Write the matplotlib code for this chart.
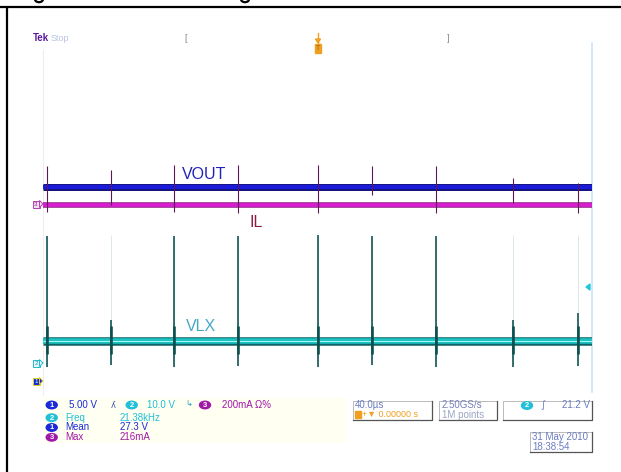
import matplotlib
matplotlib.use("Agg")
import matplotlib.pyplot as plt
from matplotlib.patches import Ellipse, Rectangle, Polygon, Arc

# ---------------- data ----------------
record_t = [-200.0, 200.0]                # µs, 40 µs/div, trigger at centre
spike_t = [-197.1, -150.5, -104.9, -57.9, 0.0, 39.7, 86.3, 142.4, 189.8]
# VLX switching spikes (divisions)
vlx_top = [-0.51, -2.48, -0.51, -0.51, -0.49, -0.51, -0.51, -2.48, -2.32]
vlx_bot = [-3.58, -3.53, -3.58, -3.56, -3.58, -3.53, -3.58, -3.58, -3.56]
# VOUT / IL coupled spikes (divisions)
vout_top = [1.12, 1.03, 1.15, 1.15, 1.15, 1.12, 1.13, 0.84, 0.73]
vout_bot = [0.05, 0.21, 0.05, 0.02, 0.02, 0.44, 0.02, 0.26, 0.02]
vout_level = 0.64
il_level = 0.21
vlx_level = -2.97
trace_names = ["VOUT", "IL", "VLX"]

ch_scales = ["5.00 V", "10.0 V", "200mA \u03a9%"]
meas_names = ["Freq", "Mean", "Max"]
meas_values = ["21.38kHz", "27.3 V", "216mA"]
meas_ch = ["2", "1", "3"]

# ---------------- figure ----------------
W, H = 621, 472
fig = plt.figure(figsize=(W / 100, H / 100), dpi=100)
fig.patch.set_facecolor("white")
FONT = "Liberation Sans"

ov = fig.add_axes([0, 0, 1, 1])
ov.set_xlim(0, W)
ov.set_ylim(H, 0)
ov.axis("off")

# document frame (black lines top & left)
ov.plot([0, W], [7.3, 7.3], color="black", lw=1.6, solid_capstyle="butt")
ov.plot([7.3, 7.3], [7.3, H], color="black", lw=1.6, solid_capstyle="butt")
# cut-off caption descenders at the very top
for gx in [39, 245]:
    ov.add_patch(Arc((gx, -0.8), 8, 6, theta1=0, theta2=180, color="black",
                     lw=1.6))

# screen edges
ov.plot([43, 43], [50, 395], color="#eeeeee", lw=0.8)
ov.plot([592.3, 592.3], [43, 392], color="#cfe3fa", lw=1.2)

# Top status
ov.text(33, 41, "Tek", fontsize=7, color="#5a1a9a", family=FONT,
        fontweight="bold", va="baseline")
ov.text(50.5, 41, "Stop", fontsize=6.5, color="#b8c4e0", family=FONT,
        va="baseline")
ov.text(186, 41, "[", fontsize=6.5, color="#888888", family=FONT,
        va="baseline", ha="center")
ov.text(448, 41, "]", fontsize=6.5, color="#888888", family=FONT,
        va="baseline", ha="center")
# trigger position marker
ov.plot([318, 318], [33, 43], color="#f0a020", lw=1.0)
ov.add_patch(Polygon([[315.5, 39], [320.5, 39], [318, 43]], closed=True,
                     color="#f0a020"))
ov.add_patch(Rectangle((315, 44), 6, 9, color="#f0a020"))
ov.text(318, 49, "T", fontsize=5, color="#a06010", ha="center", va="center",
        family=FONT)

# ---------------- screen axes ----------------
sa = fig.add_axes([43 / W, 1 - 385 / H, 549 / W, 342 / H])
sa.set_xlim(record_t)
sa.set_ylim(-4, 4)
sa.axis("off")
sa.patch.set_alpha(0)

px = 0.72  # points per pixel

# faint persistence of the spikes
sa.vlines(spike_t, [-0.5] * len(spike_t), vlx_bot, color="#dde8e8",
          lw=1.0 * px, zorder=1)

# VLX trace (teal band)
sa.plot(record_t, [vlx_level] * 2, color="#0e6464", lw=8.5 * px, zorder=3,
        solid_capstyle="butt")
sa.plot(record_t, [vlx_level] * 2, color="#1cc4c4", lw=5.5 * px, zorder=4,
        solid_capstyle="butt")
sa.plot(record_t, [vlx_level] * 2, color="#a8f4f4", lw=1.0 * px, zorder=5,
        solid_capstyle="butt")
sa.vlines(spike_t, vlx_bot, vlx_top, color="#0b4f4f", lw=1.6 * px, zorder=6)
sa.vlines(spike_t, [vlx_level - 0.3] * len(spike_t),
          [vlx_level + 0.35] * len(spike_t), color="#0b4f4f", lw=2.6 * px,
          zorder=6)

# IL trace (magenta)
sa.plot(record_t, [il_level] * 2, color="#8a1a80", lw=5.5 * px, zorder=3,
        solid_capstyle="butt")
sa.plot(record_t, [il_level] * 2, color="#d81ed0", lw=3.8 * px, zorder=4,
        solid_capstyle="butt")

# VOUT trace (blue)
sa.plot(record_t, [vout_level] * 2, color="#14147a", lw=7 * px, zorder=5,
        solid_capstyle="butt")
sa.plot(record_t, [vout_level] * 2, color="#1a1ad8", lw=4.2 * px, zorder=6,
        solid_capstyle="butt")

sa.vlines(spike_t, vout_bot, vout_top, color="#5e1656", lw=1.1 * px, zorder=7)

# trace labels
sa.text(-98.7, 0.81, trace_names[0], fontsize=11.5, color="#2222b8",
        family=FONT, va="baseline", zorder=8)
sa.text(-49.2, -0.30, trace_names[1], fontsize=11.5, color="#8c1c44",
        family=FONT, va="baseline", zorder=8)
sa.text(-96.0, -2.73, trace_names[2], fontsize=11.5, color="#48a8c8",
        family=FONT, va="baseline", zorder=8)

# ---------------- left channel markers ----------------
def ch_marker(x, y, label, edge, face, txt):
    ov.add_patch(Rectangle((x - 4.5, y - 3.5), 7, 7, facecolor=face,
                           edgecolor=edge, lw=0.7, zorder=9))
    ov.add_patch(Polygon([[x + 2.5, y - 3.5], [x + 6, y], [x + 2.5, y + 3.5]],
                         closed=True, facecolor=face, edgecolor=edge, lw=0.7,
                         zorder=9))
    ov.text(x - 1, y + 0.3, label, fontsize=4.5, color=txt, ha="center",
            va="center", family=FONT, zorder=10)

ch_marker(37, 204, "3", "#b040b0", "#f6e0f6", "#902090")
ch_marker(37, 363, "2", "#20b8d0", "#e8fafd", "#1090b0")
ch_marker(37, 381, "1", "#e8d020", "#1030d8", "white")

# trigger level marker (right edge)
ov.add_patch(Polygon([[586, 287], [590, 284], [590, 290]], closed=True,
                     color="#20c8d8"))

# ---------------- bottom readouts ----------------
ov.add_patch(Rectangle((43, 398), 304, 45, facecolor="#fffff2",
                       edgecolor="none", zorder=0))

BLUE, CYAN, PURP = "#1a2ad8", "#20c0d8", "#a018a8"
ch_col = {"1": BLUE, "2": CYAN, "3": PURP}


def badge(x, y, n):
    ov.add_patch(Ellipse((x, y), 11, 7.5, color=ch_col[n], zorder=5))
    ov.text(x, y + 0.3, n, fontsize=5.5, color="white", ha="center",
            va="center", family=FONT, fontweight="bold", zorder=6)


# row 1: channel scales
badge(51.7, 405, "1")
ov.text(69, 405, ch_scales[0], fontsize=7, color=BLUE, family=FONT,
        va="center")
ov.text(113, 405, "\u028e", fontsize=6, color="#4050b0", family="DejaVu Sans",
        va="center", ha="center")
badge(131.7, 405, "2")
ov.text(146.7, 405, ch_scales[1], fontsize=7, color=CYAN, family=FONT,
        va="center")
ov.text(189, 404, "\u21b3", fontsize=6, color="#30a0c0", family="DejaVu Sans",
        va="center", ha="center")
badge(205, 405, "3")
ov.text(221.7, 405, ch_scales[2], fontsize=7, color=PURP, family=FONT,
        va="center")

# measurement rows
for i, (n, name, val) in enumerate(zip(meas_ch, meas_names, meas_values)):
    yy = 417.7 + i * 9.8
    badge(51.7, yy, n)
    ov.text(65, yy, name, fontsize=7, color=ch_col[n], family=FONT,
            va="center")
    ov.text(120, yy, val, fontsize=7, color=ch_col[n], family=FONT,
            va="center")


def box(x0, y0, x1, y1):
    ov.add_patch(Rectangle((x0, y0), x1 - x0, y1 - y0, facecolor="white",
                           edgecolor="#b0b0b0", lw=0.6, zorder=2))
    ov.plot([x0, x1, x1], [y1, y1, y0], color="#555555", lw=0.9, zorder=3)


STEEL = "#6a7cc0"
box(353, 401, 432, 420)
ov.text(355, 405.5, "40.0\u00b5s", fontsize=7, color=STEEL, family=FONT,
        va="center", zorder=4)
ov.add_patch(Rectangle((355, 411), 6, 7, color="#f0a020", zorder=4))
ov.text(362, 414.8, "+\u25bc 0.00000 s", fontsize=6.5, color="#f0a020",
        family=FONT, va="center", zorder=4)

box(439, 401, 497, 420)
ov.text(441.5, 405.5, "2.50GS/s", fontsize=7, color="#7080b8", family=FONT,
        va="center", zorder=4)
ov.text(441.5, 414.8, "1M points", fontsize=7, color="#9aa6c8", family=FONT,
        va="center", zorder=4)

box(503, 401, 592, 420)
ov.add_patch(Ellipse((527, 405.5), 11, 7.5, color=CYAN, zorder=5))
ov.text(527, 405.8, "2", fontsize=5.5, color="white", ha="center",
        va="center", family=FONT, fontweight="bold", zorder=6)
ov.text(543, 405.5, "\u222b", fontsize=7, color=STEEL, family="DejaVu Sans",
        va="center", ha="center", zorder=4)
ov.text(590, 405.5, "21.2 V", fontsize=7, color=STEEL, family=FONT,
        va="center", ha="right", zorder=4)

box(530, 432, 592, 452)
ov.text(532, 437, "31 May 2010", fontsize=7, color=STEEL, family=FONT,
        va="center", zorder=4)
ov.text(532, 446.5, "18:38:54", fontsize=7, color=STEEL, family=FONT,
        va="center", zorder=4)

fig.savefig("out.png", dpi=100, facecolor="white")
